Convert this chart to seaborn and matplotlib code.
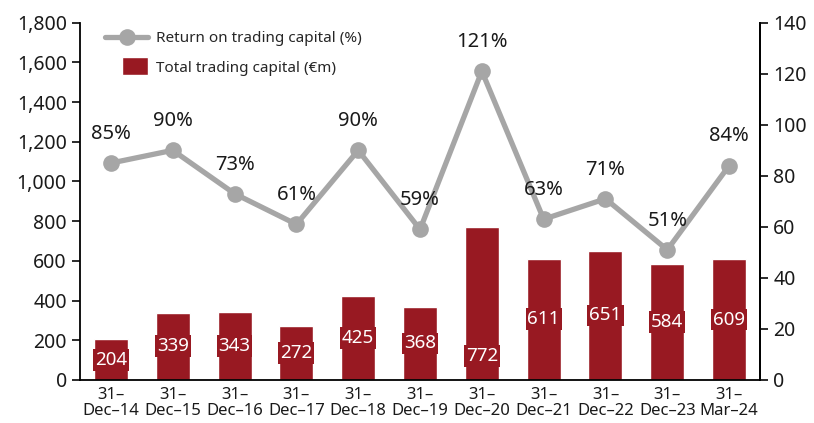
import pandas as pd
import matplotlib.pyplot as plt
import seaborn as sns
from matplotlib.patches import Rectangle
from matplotlib.container import BarContainer
from matplotlib.legend_handler import HandlerPatch, update_from_first_child
from matplotlib.ticker import FuncFormatter, MultipleLocator


# -----------------------------
# DATA
# -----------------------------
dates = ["31\u2013\nDec\u201314", "31\u2013\nDec\u201315", "31\u2013\nDec\u201316", "31\u2013\nDec\u201317",
         "31\u2013\nDec\u201318", "31\u2013\nDec\u201319", "31\u2013\nDec\u201320", "31\u2013\nDec\u201321",
         "31\u2013\nDec\u201322", "31\u2013\nDec\u201323", "31\u2013\nMar\u201324"]
capital = [204, 339, 343, 272, 425, 368, 772, 611, 651, 584, 609]
returns = [85, 90, 73, 61, 90, 59, 121, 63, 71, 51, 84]

bar_color = "#981922"
line_color = "#a6a6a6"

df = pd.DataFrame({"date": dates, "capital": capital, "returns": returns})
df["pos"] = range(len(df))


# -----------------------------
# STYLE
# -----------------------------
sns.set_theme(style="ticks")
plt.rcParams["font.family"] = ["Noto Sans", "DejaVu Sans"]
plt.rcParams["axes.edgecolor"] = "black"
plt.rcParams["axes.linewidth"] = 1.3


# -----------------------------
# FIGURE
# -----------------------------
fig = plt.figure(figsize=(8.14, 4.23), dpi=100)
ax = fig.add_axes([0.0983, 0.1017, 0.8354, 0.8446])

sns.barplot(data=df, x="date", y="capital", color=bar_color, width=0.55,
            saturation=1, ax=ax, label="Total trading capital (\u20acm)")

ax.set_ylim(0, 1800)
ax.set_xlim(-0.5, len(df) - 0.5)
ax.yaxis.set_major_locator(MultipleLocator(200))
ax.yaxis.set_major_formatter(FuncFormatter(lambda v, p: f"{int(v):,}"))
ax.set_xlabel("")
ax.set_ylabel("")
ax.tick_params(axis="y", labelsize=14, length=6, width=1.3, colors="#1a1a1a")
ax.tick_params(axis="x", labelsize=12, length=0, pad=5, colors="#1a1a1a")
for lbl in ax.get_xticklabels():
    lbl.set_linespacing(1.0)
ax.spines["top"].set_visible(False)

# value labels inside bars
for i, v in enumerate(df["capital"]):
    y = v / 2 if i != 6 else 120
    ax.text(i, y, str(v), ha="center", va="center", color="white", fontsize=13.5,
            bbox=dict(boxstyle="square,pad=0.1", fc=bar_color, ec="none"))


# -----------------------------
# RETURN LINE (SECONDARY AXIS)
# -----------------------------
ax2 = ax.twinx()
sns.lineplot(data=df, x="pos", y="returns", color=line_color, linewidth=3.8,
             marker="o", markersize=12, markeredgewidth=0, ax=ax2,
             label="Return on trading capital (%)")

ax2.set_ylim(0, 140)
ax2.yaxis.set_major_locator(MultipleLocator(20))
ax2.set_ylabel("")
ax2.set_xlabel("")
ax2.tick_params(axis="y", labelsize=14, length=6, width=1.3, colors="#1a1a1a")
ax2.spines["top"].set_visible(False)
ax2.spines["left"].set_visible(False)
ax2.spines["bottom"].set_visible(False)

for i, r in enumerate(df["returns"]):
    ax2.annotate(f"{r}%", (i, r), xytext=(0, 21), textcoords="offset points",
                 ha="center", va="center", fontsize=14.5, color="#1a1a1a")


# -----------------------------
# LEGEND
# -----------------------------
def square_patch(legend, orig_handle, xdescent, ydescent, width, height, fontsize):
    return Rectangle((width * 0.38 - xdescent, -ydescent - 0.35 * height),
                     width * 0.62, height * 1.7)


h1, l1 = ax.get_legend_handles_labels()
h2, l2 = ax2.get_legend_handles_labels()
if ax.get_legend():
    ax.get_legend().remove()
ax2.legend(h2 + h1, l2 + l1, loc="upper left", bbox_to_anchor=(0.025, 1.0),
           frameon=False, fontsize=11, handlelength=2.8, handletextpad=0.5,
           labelspacing=0.95, borderaxespad=0.15,
           handler_map={BarContainer: HandlerPatch(patch_func=square_patch,
                                                   update_func=update_from_first_child)})

ax.set_xlim(-0.5, len(df) - 0.5)
ax2.set_xlim(-0.5, len(df) - 0.5)

plt.savefig("out.png", dpi=100)
